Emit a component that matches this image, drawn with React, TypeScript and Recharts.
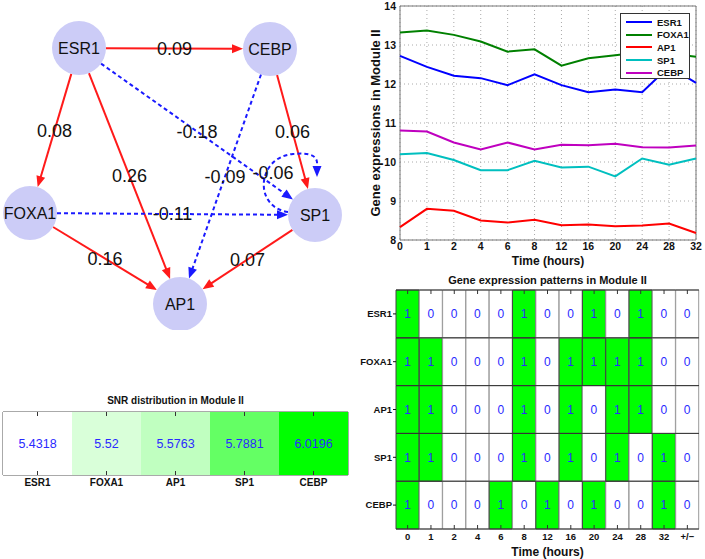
import React from 'react'
import {
  Bar,
  BarChart,
  CartesianGrid,
  Cell,
  LabelList,
  Legend,
  Line,
  LineChart,
  ReferenceArea,
  ReferenceDot,
  ReferenceLine,
  Scatter,
  ScatterChart,
  XAxis,
  YAxis,
} from 'recharts'

document.body.style.margin = '0'

const FONT = '"Liberation Sans", Arial, Helvetica, sans-serif'

// time course (top right)
const times = ['0', '1', '2', '4', '6', '8', '12', '16', '20', '24', '28', '32']
const esr1 = [12.72, 12.44, 12.21, 12.15, 11.97, 12.25, 11.97, 11.79, 11.86, 11.79, 12.45, 12.03]
const foxa1 = [13.32, 13.37, 13.26, 13.09, 12.83, 12.89, 12.47, 12.66, 12.74, 12.82, 12.78, 12.7]
const ap1 = [8.33, 8.8, 8.75, 8.5, 8.45, 8.52, 8.38, 8.4, 8.35, 8.37, 8.42, 8.18]
const sp1 = [10.2, 10.23, 10.05, 9.79, 9.79, 10.03, 9.86, 9.88, 9.63, 10.09, 9.93, 10.09]
const cebp = [10.81, 10.78, 10.5, 10.32, 10.5, 10.32, 10.44, 10.43, 10.47, 10.38, 10.37, 10.42]
const exprTicks = [8, 9, 10, 11, 12, 13, 14]

const genes = ['ESR1', 'FOXA1', 'AP1', 'SP1', 'CEBP']
const geneColors = ['#0000ff', '#008000', '#ff0000', '#00bfbf', '#bf00bf']
const series = [esr1, foxa1, ap1, sp1, cebp]

// expression pattern (bottom right)
const patternCols = ['0', '1', '2', '4', '6', '8', '12', '16', '20', '24', '28', '32', '+/\u2212']
const patESR1 = [1, 0, 0, 0, 0, 1, 0, 0, 1, 0, 1, 0, 0]
const patFOXA1 = [1, 1, 0, 0, 0, 1, 0, 1, 1, 1, 1, 0, 0]
const patAP1 = [1, 1, 0, 0, 0, 1, 0, 1, 0, 1, 1, 0, 0]
const patSP1 = [1, 1, 0, 0, 0, 1, 0, 1, 0, 1, 0, 1, 0]
const patCEBP = [1, 0, 0, 0, 1, 0, 1, 0, 1, 0, 0, 1, 0]
const patRows = [patESR1, patFOXA1, patAP1, patSP1, patCEBP]

// SNR (bottom left)
const snrGenes = ['ESR1', 'FOXA1', 'AP1', 'SP1', 'CEBP']
const snrValues = [5.4318, 5.52, 5.5763, 5.7881, 6.0196]

// network (top left), layout positions of the nodes
const nodeNames = ['ESR1', 'CEBP', 'FOXA1', 'SP1', 'AP1']
const nodeX = [79, 270, 30, 315, 180]
const nodeY = [48, 49, 213, 215, 304]
const edgeFrom = ['ESR1', 'ESR1', 'ESR1', 'ESR1', 'CEBP', 'CEBP', 'FOXA1', 'FOXA1', 'SP1']
const edgeTo = ['CEBP', 'FOXA1', 'AP1', 'SP1', 'SP1', 'AP1', 'SP1', 'AP1', 'AP1']
const edgeWeight = [0.09, 0.08, 0.26, -0.18, 0.06, -0.09, -0.11, 0.16, 0.07]
const loopNode = 'SP1'
const loopWeight = -0.06

const R = 27
const RED = '#ff1a1a'
const BLUE = '#1a1aff'

const lineTable = times.map((t, i) => {
  const row: any = { t }
  genes.forEach((g, k) => (row[g] = series[k][i]))
  return row
})

const patternTable = patternCols.map((t, i) => {
  const row: any = { t }
  genes.forEach((g, k) => {
    row[g] = patRows[k][i]
    row[g + '_cell'] = 1
  })
  return row
})

const snrMin = Math.min(...snrValues)
const snrMax = Math.max(...snrValues)
const snrTable = snrGenes.map((g, i) => ({ gene: g, snr: snrValues[i], cell: 1 }))
const snrColor = (v: number) => {
  const c = Math.round(255 * (1 - (v - snrMin) / (snrMax - snrMin)))
  return `rgb(${c},255,${c})`
}

const nodes = nodeNames.map((n, i) => ({ name: n, x: nodeX[i], y: nodeY[i] }))
const nodeOf = (n: string) => nodes.find((d) => d.name === n)!

function Edge({ x1, y1, x2, y2, w }: any) {
  const dx = x2 - x1
  const dy = y2 - y1
  const len = Math.hypot(dx, dy)
  const ux = dx / len
  const uy = dy / len
  const sx = x1 + ux * R
  const sy = y1 + uy * R
  const ex = x2 - ux * R
  const ey = y2 - uy * R
  const bx = ex - ux * 11
  const by = ey - uy * 11
  const col = w > 0 ? RED : BLUE
  return (
    <g>
      <line
        x1={sx}
        y1={sy}
        x2={bx + ux * 2}
        y2={by + uy * 2}
        stroke={col}
        strokeWidth={2}
        strokeDasharray={w > 0 ? undefined : '4 3'}
      />
      <polygon
        points={`${ex},${ey} ${bx - uy * 4.5},${by + ux * 4.5} ${bx + uy * 4.5},${by - ux * 4.5}`}
        fill={col}
      />
      <text
        x={(x1 + x2) / 2}
        y={(y1 + y2) / 2}
        textAnchor="middle"
        dominantBaseline="central"
        fontSize={18}
        fill="#111"
      >
        {w.toFixed(2)}
      </text>
    </g>
  )
}

function SelfLoop({ cx, cy, w }: any) {
  const d = `M${cx - 27},${cy - 3} C${cx - 62},${cy - 8} ${cx - 58},${cy - 58} ${cx - 22},${cy - 61} C${cx - 2},${cy - 63} ${cx + 3},${cy - 58} ${cx + 2},${cy - 49}`
  const tx = cx + 2
  const ty = cy - 38
  return (
    <g>
      <path d={d} fill="none" stroke={BLUE} strokeWidth={2} strokeDasharray="4 3" />
      <polygon points={`${tx},${ty} ${tx - 4.5},${ty - 11} ${tx + 4.5},${ty - 11}`} fill={BLUE} />
      <text x={cx - 42} y={cy - 42} textAnchor="middle" dominantBaseline="central" fontSize={18} fill="#111">
        {w.toFixed(2)}
      </text>
    </g>
  )
}

function NodeShape(p: any) {
  return (
    <g>
      <circle cx={p.cx} cy={p.cy} r={R} fill="#ccccf7" />
      <text x={p.cx} y={p.cy} textAnchor="middle" dominantBaseline="central" fontSize={16} fill="#111">
        {p.payload.name}
      </text>
    </g>
  )
}

// short inward ticks at both ends of a vertical reference line
function EdgeTicks({ x1, y1, x2, y2 }: any) {
  const top = Math.min(y1, y2)
  const bottom = Math.max(y1, y2)
  return (
    <g stroke="#333" strokeWidth={1}>
      <line x1={x1} y1={top} x2={x1} y2={top + 4} />
      <line x1={x2} y1={bottom} x2={x2} y2={bottom - 4} />
    </g>
  )
}

function Network() {
  const loop = nodeOf(loopNode)
  return (
    <ScatterChart width={360} height={330} margin={{ top: 0, right: 0, bottom: 0, left: 0 }}>
      <XAxis type="number" dataKey="x" domain={[0, 360]} hide />
      <YAxis type="number" dataKey="y" domain={[0, 330]} reversed hide />
      {edgeWeight.map((w, i) => {
        const a = nodeOf(edgeFrom[i])
        const b = nodeOf(edgeTo[i])
        return (
          <ReferenceLine
            key={i}
            segment={[
              { x: a.x, y: a.y },
              { x: b.x, y: b.y },
            ]}
            shape={(p: any) => <Edge {...p} w={w} />}
          />
        )
      })}
      <ReferenceDot
        x={loop.x}
        y={loop.y}
        r={R}
        shape={(p: any) => <SelfLoop cx={p.cx} cy={p.cy} w={loopWeight} />}
      />
      <Scatter data={nodes} isAnimationActive={false} shape={NodeShape} />
    </ScatterChart>
  )
}

function LegendBox() {
  return (
    <div
      style={{
        border: '1px solid #333',
        background: '#fff',
        width: 70,
        height: 66,
        boxSizing: 'border-box',
        paddingTop: 2,
      }}
    >
      {genes.map((g, k) => (
        <div key={g} style={{ display: 'flex', alignItems: 'center', height: 12.6 }}>
          <svg width={36} height={10}>
            <line x1={5} y1={5} x2={31} y2={5} stroke={geneColors[k]} strokeWidth={2} />
          </svg>
          <span style={{ fontSize: 9.5, fontWeight: 'bold', color: '#111' }}>{g}</span>
        </div>
      ))}
    </div>
  )
}

const tickStyle = { fontSize: 10.5, fontWeight: 'bold', fill: '#111' }

function TimeCourse() {
  return (
    <LineChart width={345} height={270} data={lineTable} margin={{ top: 6, right: 9, bottom: 0, left: 0 }}>
      <CartesianGrid stroke="#aaa" strokeDasharray="1 3" />
      <XAxis
        dataKey="t"
        scale="point"
        height={30}
        tickSize={0}
        tickMargin={3}
        axisLine={false}
        tick={tickStyle}
        label={{ value: 'Time (hours)', position: 'insideBottom', offset: 5, fontSize: 12, fontWeight: 'bold', fill: '#111' }}
      />
      <YAxis
        domain={[8, 14]}
        ticks={exprTicks}
        width={40}
        tickSize={0}
        tickMargin={4}
        axisLine={false}
        tick={tickStyle}
        label={{
          value: 'Gene expressions in Module II',
          angle: -90,
          position: 'insideLeft',
          offset: 15,
          fontSize: 13,
          fontWeight: 'bold',
          fill: '#111',
          style: { textAnchor: 'middle' },
        }}
      />
      <ReferenceArea x1="0" x2="32" y1={8} y2={14} fill="none" stroke="#777" strokeWidth={1} />
      {genes.map((g, k) => (
        <Line
          key={g}
          dataKey={g}
          stroke={geneColors[k]}
          strokeWidth={2}
          dot={false}
          isAnimationActive={false}
        />
      ))}
      <Legend
        layout="vertical"
        align="center"
        verticalAlign="middle"
        wrapperStyle={{ left: 260, top: 13, width: 70 }}
        content={() => <LegendBox />}
      />
    </LineChart>
  )
}

function Pattern() {
  const bottomUp = [...genes].reverse()
  return (
    <BarChart
      width={345}
      height={289}
      data={patternTable}
      margin={{ top: 20, right: 6, bottom: 0, left: 0 }}
      barCategoryGap={0}
      barGap={0}
    >
      <XAxis
        dataKey="t"
        height={30}
        tickSize={0}
        tickMargin={4}
        axisLine={false}
        tick={{ fontSize: 9.5, fontWeight: 'bold', fill: '#111' }}
        label={{ value: 'Time (hours)', position: 'insideBottom', offset: 3, fontSize: 12, fontWeight: 'bold', fill: '#111' }}
      />
      <YAxis
        type="number"
        domain={[0, 5]}
        ticks={[0.5, 1.5, 2.5, 3.5, 4.5]}
        tickFormatter={(v: number) => bottomUp[Math.floor(v)]}
        width={36}
        tickSize={3}
        tickMargin={1}
        axisLine={false}
        tickLine={{ stroke: '#111' }}
        tick={{ fontSize: 9.5, fontWeight: 'bold', fill: '#111' }}
      />
      {bottomUp.map((g) => (
        <Bar key={g} dataKey={g + '_cell'} stackId="p" isAnimationActive={false}>
          {patternTable.map((d: any, i: number) => (
            <Cell
              key={i}
              fill={d[g] ? '#00ff00' : '#ffffff'}
              stroke={d[g] ? '#444' : '#999'}
              strokeWidth={1}
            />
          ))}
          <LabelList dataKey={g} position="center" fill="#2a2aff" fontSize={12} />
        </Bar>
      ))}
      {[0, 1, 2, 3, 4, 5].map((y) => (
        <ReferenceLine key={y} y={y} stroke="#333" strokeWidth={1} />
      ))}
      {patternCols.map((c) => (
        <ReferenceLine key={'t' + c} x={c} shape={(p: any) => <EdgeTicks {...p} />} />
      ))}
    </BarChart>
  )
}

function Snr() {
  return (
    <BarChart
      width={355}
      height={90}
      data={snrTable}
      margin={{ top: 7, right: 7, bottom: 0, left: 3 }}
      barCategoryGap={0}
    >
      <XAxis
        dataKey="gene"
        height={20}
        tickSize={0}
        tickMargin={4}
        axisLine={false}
        tick={{ fontSize: 10, fontWeight: 'bold', fill: '#111' }}
      />
      <YAxis domain={[0, 1]} hide />
      <Bar dataKey="cell" isAnimationActive={false}>
        {snrTable.map((d, i) => (
          <Cell key={i} fill={snrColor(d.snr)} />
        ))}
        <LabelList dataKey="snr" position="center" fill="#2a2aff" fontSize={12.5} />
      </Bar>
      <ReferenceArea x1="ESR1" x2="CEBP" y1={0} y2={1} fill="none" stroke="#555" strokeWidth={1} />
      {snrGenes.map((g) => (
        <ReferenceLine key={g} x={g} shape={(p: any) => <EdgeTicks {...p} />} />
      ))}
    </BarChart>
  )
}

export default function App() {
  return (
    <div style={{ position: 'relative', width: 705, height: 559, fontFamily: FONT, background: '#fff', overflow: 'hidden' }}>
      <div style={{ position: 'absolute', left: 0, top: 0 }}>
        <Network />
      </div>
      <div style={{ position: 'absolute', left: 360, top: 0 }}>
        <TimeCourse />
      </div>
      <div
        style={{
          position: 'absolute',
          left: 396,
          top: 274,
          width: 303,
          textAlign: 'center',
          fontSize: 11,
          fontWeight: 'bold',
          lineHeight: '12px',
          color: '#111',
        }}
      >
        Gene expression patterns in Module II
      </div>
      <div style={{ position: 'absolute', left: 360, top: 270 }}>
        <Pattern />
      </div>
      <div
        style={{
          position: 'absolute',
          left: 3,
          top: 395,
          width: 345,
          textAlign: 'center',
          fontSize: 10,
          fontWeight: 'bold',
          lineHeight: '12px',
          color: '#111',
        }}
      >
        SNR distribution in Module II
      </div>
      <div style={{ position: 'absolute', left: 0, top: 405 }}>
        <Snr />
      </div>
    </div>
  )
}
